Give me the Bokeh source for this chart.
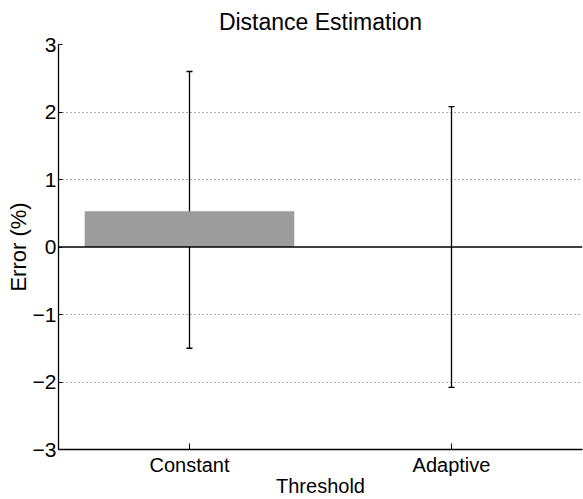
from bokeh.plotting import figure
from bokeh.models import (ColumnDataSource, Range1d, FactorRange, FixedTicker,
                          Span, Whisker, TeeHead)
from bokeh.embed import file_html
from bokeh.resources import INLINE

# ---- data ----
categories = ["Constant", "Adaptive"]
mean_error = [0.53, 0.0]
upper_error = [2.60, 2.08]
lower_error = [-1.50, -2.08]
y_ticks = [-3, -2, -1, 0, 1, 2, 3]
y_tick_labels = ["\u22123", "\u22122", "\u22121", "0", "1", "2", "3"]

FONT = "Liberation Sans"

src = ColumnDataSource(dict(cat=categories, top=mean_error,
                            upper=upper_error, lower=lower_error))

p = figure(width=583, height=499, output_backend="svg", toolbar_location=None,
           x_range=FactorRange(*categories), y_range=Range1d(-3, 3),
           title="Distance Estimation",
           min_border_left=58, min_border_right=1,
           min_border_top=44, min_border_bottom=49)
p.outline_line_color = None
p.background_fill_color = "white"
p.border_fill_color = "white"

# title
p.title.align = "center"
p.title.vertical_align = "top"
p.title.text_font = FONT
p.title.text_font_size = "23px"
p.title.text_font_style = "normal"
p.title.text_color = "black"
p.title.standoff = 16

# bars
p.vbar(x="cat", top="top", bottom=0, width=0.8, source=src,
       fill_color="#9c9c9c", line_color=None)

# zero baseline
p.add_layout(Span(location=0, dimension="width", line_color="black", line_width=1.3))

# error bars
w = Whisker(base="cat", upper="upper", lower="lower", source=src,
            line_color="black", line_width=1.3,
            upper_head=TeeHead(size=6, line_color="black", line_width=1.3),
            lower_head=TeeHead(size=6, line_color="black", line_width=1.3))
p.add_layout(w)

# grid
p.xgrid.grid_line_color = None
p.ygrid.ticker = FixedTicker(ticks=[t for t in y_ticks if t not in (0, -3)])
p.ygrid.grid_line_color = "#555555"
p.ygrid.grid_line_dash = "1 3"
p.ygrid.grid_line_width = 1

# y axis
ya = p.yaxis[0]
ya.ticker = FixedTicker(ticks=y_ticks)
ya.major_label_overrides = {t: s for t, s in zip(y_ticks, y_tick_labels)}
ya.axis_label = "Error (%)"
ya.axis_label_text_font = FONT
ya.axis_label_text_font_size = "22px"
ya.axis_label_text_font_style = "normal"
ya.axis_label_text_color = "black"
ya.axis_label_standoff = -1
ya.major_label_text_font = FONT
ya.major_label_text_font_size = "21px"
ya.major_label_text_color = "black"
ya.major_label_standoff = 2
ya.major_tick_in = 4
ya.major_tick_out = 0
ya.minor_tick_line_color = None
ya.axis_line_color = "black"
ya.axis_line_width = 1.3
ya.major_tick_line_color = "black"

# x axis
xa = p.xaxis[0]
xa.axis_label = "Threshold"
xa.axis_label_text_font = FONT
xa.axis_label_text_font_size = "20px"
xa.axis_label_text_font_style = "normal"
xa.axis_label_text_color = "black"
xa.axis_label_standoff = -4
xa.major_label_text_font = FONT
xa.major_label_text_font_size = "20px"
xa.major_label_text_color = "black"
xa.major_label_standoff = 4
xa.major_tick_in = 6
xa.major_tick_out = 0
xa.axis_line_color = "black"
xa.axis_line_width = 1.3
xa.major_tick_line_color = "black"

open("out.html", "w").write(file_html(p, INLINE))
